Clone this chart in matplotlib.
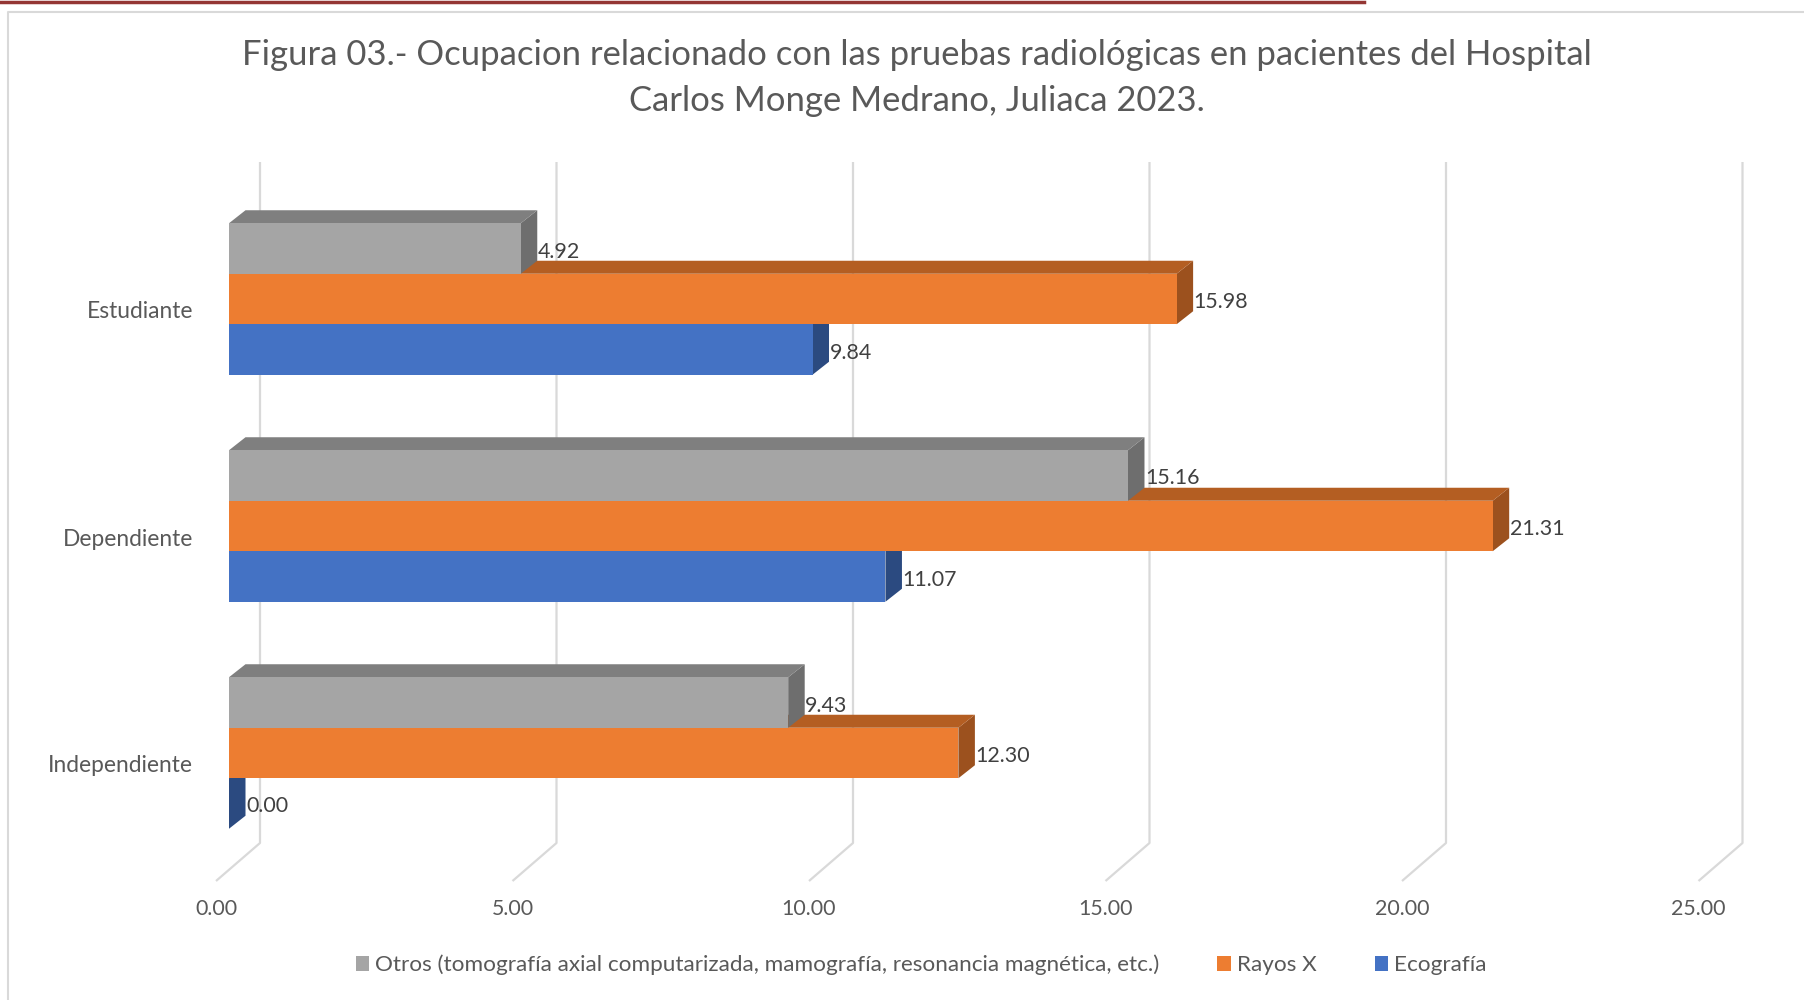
import matplotlib
matplotlib.use("Agg")
import matplotlib.pyplot as plt
from matplotlib.patches import Polygon, Patch
from matplotlib.lines import Line2D

# datos del grafico
categorias = ["Estudiante", "Dependiente", "Independiente"]
series = ["Otros (tomografía axial computarizada, mamografía, resonancia magnética, etc.)",
          "Rayos X", "Ecografía"]
otros = [4.92, 15.16, 9.43]
rayos_x = [15.98, 21.31, 12.30]
ecografia = [9.84, 11.07, 0.00]
ticks = [0, 5, 10, 15, 20, 25]
titulo = ("Figura 03.- Ocupacion relacionado con las pruebas radiológicas en pacientes del Hospital\n"
          "Carlos Monge Medrano, Juliaca 2023.")

# colores (frente, arriba, lado)
col_otros = ("#A5A5A5", "#7F7F7F", "#6E6E6E")
col_rayos = ("#ED7D31", "#B45E22", "#9C511E")
col_eco = ("#4472C4", "#34569A", "#2B4A80")

W, H = 1804, 1000
fig = plt.figure(figsize=(W / 100, H / 100), dpi=100)
ax = fig.add_axes([0, 0, 1, 1])
ax.axis("off")

# escala: pixel por unidad y origen del plano frontal
ppu = 59.3
x0 = 229.0
ypx0 = 299.0   # centro del grupo superior
grp = 227.0    # separacion entre grupos

def cy(py):
    return 2 - (py - ypx0) / grp

ax.set_xlim(-x0 / ppu, (W - x0) / ppu)
ax.set_ylim(cy(H), cy(0))

fnt = "Lato"
gris_txt = "#595959"

# profundidad de las barras
dx = 16.5 / ppu
dy = 13.0 / grp
h = 50.5 / grp

# rejilla (pared del fondo + piso)
back = 31.0 / ppu
floor_dx = 44.0 / ppu
for t in ticks:
    xb = t + back
    ax.plot([xb, xb, xb - floor_dx], [cy(162), cy(843), cy(881)],
            color="#D9D9D9", lw=1.6, zorder=1, solid_capstyle="butt")
    ax.text(t + back - floor_dx, cy(909), f"{t:.2f}", ha="center", va="center",
            fontsize=15.4, color=gris_txt, family=fnt)

ypos = [2, 1, 0]
# se dibuja de abajo hacia arriba para que se tapen bien
capas = [(ecografia, col_eco, -h), (rayos_x, col_rayos, 0.0), (otros, col_otros, h)]
z = 2
for vals, cols, off in capas:
    for y, v in zip(ypos, vals):
        yc = y + off
        lo, hi = yc - h / 2, yc + h / 2
        side = Polygon([(v, lo), (v + dx, lo + dy), (v + dx, hi + dy), (v, hi)],
                       closed=True, facecolor=cols[2], edgecolor="none", zorder=z)
        top = Polygon([(0, hi), (dx, hi + dy), (v + dx, hi + dy), (v, hi)],
                      closed=True, facecolor=cols[1], edgecolor="none", zorder=z)
        ax.add_patch(side)
        ax.add_patch(top)
        ax.text(v + dx + 0.01, yc - 3 / grp, f"{v:.2f}", ha="left", va="center",
                fontsize=15.4, color="#404040", family=fnt, zorder=10)
    ax.barh([y + off for y in ypos], vals, height=h, left=0, color=cols[0],
            edgecolor="none", zorder=z + 1)
    z += 2

for y, c in zip(ypos, categorias):
    ax.text(-(x0 - 193) / ppu, y - 13 / grp, c, ha="right", va="center",
            fontsize=16.4, color=gris_txt, family=fnt)

fig.text(917 / W, 1 - 78 / H, titulo, ha="center", va="center", fontsize=24.9,
         color=gris_txt, family=fnt, linespacing=1.52)

handles = [Patch(facecolor=col_otros[0]), Patch(facecolor=col_rayos[0]), Patch(facecolor=col_eco[0])]
fig.legend(handles, series, loc="center", bbox_to_anchor=(921 / W, 1 - 965 / H), ncol=3,
           frameon=False, handlelength=0.6, handleheight=0.6, handletextpad=0.25,
           columnspacing=2.6, prop={"family": fnt, "size": 16.2}, labelcolor=gris_txt)

# marco y linea superior
fig.add_artist(Line2D([0, 1364 / W], [1 - 1.5 / H, 1 - 1.5 / H], color="#943634", lw=2.5))
fig.add_artist(Line2D([8 / W, 8 / W, 1], [0, 1 - 12 / H, 1 - 12 / H], color="#D9D9D9", lw=1.5))

fig.savefig("out.png", dpi=100)
